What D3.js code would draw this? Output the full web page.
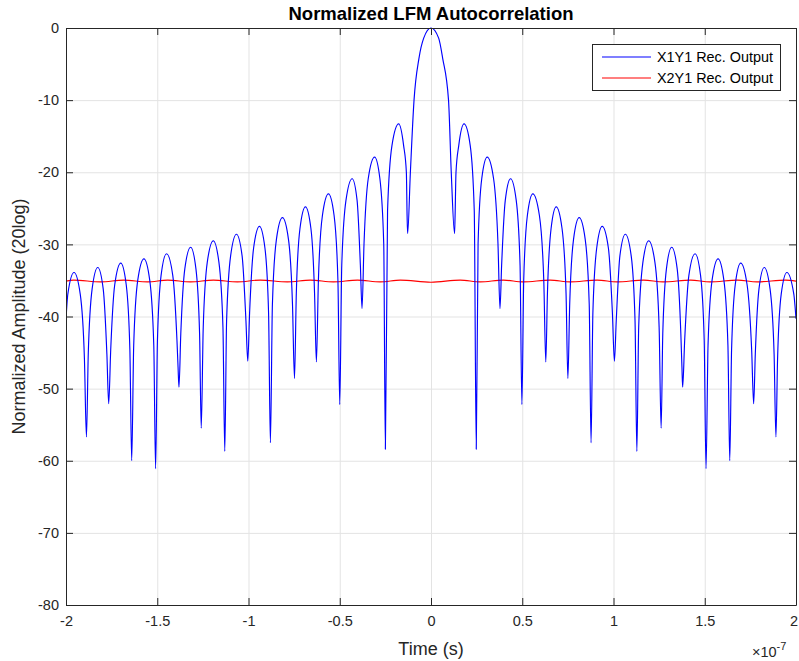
<!DOCTYPE html>
<html>
<head>
<meta charset="utf-8">
<script src="https://cdn.jsdelivr.net/npm/d3@7"></script>
<style>
  html, body { margin: 0; padding: 0; background: #fff; }
  svg { display: block; font-family: "Liberation Sans", Arial, Helvetica, sans-serif; }
</style>
</head>
<body>
<svg id="chart" width="799" height="661"></svg>
<script>
// Time axis in units of 1e-7 s, amplitude in dB (20log)
const xTicks = [-2, -1.5, -1, -0.5, 0, 0.5, 1, 1.5, 2];
const yTicks = [0, -10, -20, -30, -40, -50, -60, -70, -80];
const seriesNames = ["X1Y1 Rec. Output", "X2Y1 Rec. Output"];

// X1Y1 receiver output: sidelobe nulls, shoulders and peaks
const x1y1 = [
  [-2.000, -40.4], [-1.990, -36.9], [-1.956, -33.9], [-1.922, -36.9], [-1.899, -45.9],
  [-1.888, -56.7],
  [-1.878, -45.2], [-1.857, -36.2], [-1.826, -33.2], [-1.796, -36.2], [-1.776, -45.2],
  [-1.766, -52.1],
  [-1.755, -44.6], [-1.733, -35.6], [-1.700, -32.6], [-1.670, -35.6], [-1.650, -44.6],
  [-1.640, -60.0],
  [-1.629, -44.0], [-1.607, -35.0], [-1.573, -32.0], [-1.541, -35.0], [-1.519, -44.0],
  [-1.509, -61.1],
  [-1.499, -43.3], [-1.479, -34.3], [-1.449, -31.3], [-1.415, -34.3], [-1.392, -43.3], [-1.386, -47.0],
  [-1.381, -49.8],
  [-1.371, -42.4], [-1.349, -33.4], [-1.317, -30.4], [-1.288, -33.4], [-1.268, -42.4],
  [-1.259, -55.5],
  [-1.248, -41.5], [-1.226, -32.5], [-1.193, -29.5], [-1.162, -32.5], [-1.140, -41.5],
  [-1.130, -58.7],
  [-1.120, -40.6], [-1.098, -31.6], [-1.066, -28.6], [-1.035, -31.6], [-1.014, -40.6],
  [-1.004, -46.2],
  [-0.994, -39.5], [-0.972, -30.5], [-0.940, -27.5], [-0.910, -30.5], [-0.890, -39.5],
  [-0.880, -57.5],
  [-0.869, -38.3], [-0.847, -29.3], [-0.814, -26.3], [-0.781, -29.3], [-0.759, -38.3],
  [-0.748, -48.6],
  [-0.738, -36.8], [-0.718, -27.8], [-0.688, -24.8], [-0.658, -27.8], [-0.638, -36.8],
  [-0.628, -46.3],
  [-0.617, -35.0], [-0.595, -26.0], [-0.562, -23.0], [-0.531, -26.0], [-0.510, -35.0],
  [-0.500, -52.2],
  [-0.489, -32.9], [-0.466, -23.9], [-0.432, -20.9], [-0.405, -23.9], [-0.387, -32.9],
  [-0.378, -38.9],
  [-0.367, -29.9], [-0.344, -20.9], [-0.309, -17.9], [-0.280, -20.9], [-0.259, -29.9],
  [-0.250, -58.4],
  [-0.238, -25.3], [-0.214, -16.3], [-0.177, -13.3], [-0.150, -16.3], [-0.135, -20.0], [-0.131, -26.0],
  [-0.128, -28.5],
  [-0.113, -20.0], [-0.093, -10.0], [-0.066, -4.2], [-0.040, -1.4], [0.000, 0.0],
  [0.042, -1.4], [0.064, -4.2], [0.096, -10.0], [0.111, -20.0],
  [0.129, -28.5],
  [0.132, -26.0], [0.137, -20.0], [0.152, -16.3], [0.181, -13.3], [0.215, -16.3], [0.237, -25.3],
  [0.248, -58.4],
  [0.258, -29.9], [0.278, -20.9], [0.308, -17.9], [0.343, -20.9], [0.367, -29.9],
  [0.378, -38.9],
  [0.387, -32.9], [0.407, -23.9], [0.436, -20.9], [0.467, -23.9], [0.488, -32.9],
  [0.498, -52.2],
  [0.508, -35.0], [0.528, -26.0], [0.558, -23.0], [0.594, -26.0], [0.618, -35.0],
  [0.629, -46.3],
  [0.638, -36.8], [0.658, -27.8], [0.686, -24.8], [0.718, -27.8], [0.740, -36.8],
  [0.750, -48.6],
  [0.760, -38.3], [0.781, -29.3], [0.812, -26.3], [0.845, -29.3], [0.867, -38.3],
  [0.877, -57.5],
  [0.887, -39.5], [0.908, -30.5], [0.938, -27.5], [0.972, -30.5], [0.994, -39.5],
  [1.005, -46.2],
  [1.015, -40.6], [1.035, -31.6], [1.065, -28.6], [1.097, -31.6], [1.118, -40.6],
  [1.128, -58.7],
  [1.138, -41.5], [1.161, -32.5], [1.193, -29.5], [1.227, -32.5], [1.250, -41.5],
  [1.261, -55.5],
  [1.270, -42.4], [1.290, -33.4], [1.319, -30.4], [1.349, -33.4], [1.369, -42.4], [1.375, -47.0],
  [1.379, -49.8],
  [1.390, -43.3], [1.413, -34.3], [1.447, -31.3], [1.477, -34.3], [1.497, -43.3],
  [1.507, -61.1],
  [1.518, -44.0], [1.540, -35.0], [1.573, -32.0], [1.605, -35.0], [1.627, -44.0],
  [1.637, -60.0],
  [1.647, -44.6], [1.667, -35.6], [1.697, -32.6], [1.732, -35.6], [1.757, -44.6],
  [1.768, -52.1],
  [1.777, -45.2], [1.797, -36.2], [1.826, -33.2], [1.858, -36.2], [1.880, -45.2],
  [1.890, -56.7],
  [1.899, -45.9], [1.919, -36.9], [1.950, -33.9], [1.988, -36.9], [2.000, -40.3]
];

// X2Y1 receiver output: nearly flat floor with a slight ripple
const x2y1 = [
  [-2.000, -35.10], [-1.958, -34.95], [-1.810, -35.20], [-1.684, -34.95], [-1.553, -35.20],
  [-1.443, -34.95], [-1.318, -35.20], [-1.192, -34.95], [-1.061, -35.20], [-0.935, -34.95],
  [-0.787, -35.20], [-0.661, -34.95], [-0.535, -35.20], [-0.403, -34.95], [-0.278, -35.20],
  [-0.168, -34.95], [0.000, -35.25], [0.160, -34.95], [0.270, -35.20], [0.396, -34.95],
  [0.505, -35.20], [0.653, -34.95], [0.762, -35.20], [0.910, -34.95], [1.020, -35.20],
  [1.165, -34.95], [1.272, -35.20], [1.423, -34.95], [1.529, -35.20], [1.680, -34.95],
  [1.786, -35.20], [1.943, -34.95], [2.000, -35.10]
];

const svg = d3.select("#chart");
const axisColor = "#262626";
const gridColor = "#e3e3e3";
const plotLeft = 66, plotRight = 796, plotTop = 28, plotBottom = 605;
const tickLen = 7;

const x = d3.scaleLinear().domain([-2, 2]).range([plotLeft, plotRight]);
const y = d3.scaleLinear().domain([-80, 0]).range([plotBottom, plotTop]);

// grid
const grid = svg.append("g");
grid.append("g")
  .attr("transform", `translate(0,${plotBottom})`)
  .call(d3.axisBottom(x).tickValues(xTicks).tickSize(-(plotBottom - plotTop)).tickFormat(""))
  .call(g => g.select(".domain").remove())
  .call(g => g.selectAll("line").attr("stroke", gridColor).attr("stroke-width", 1));
grid.append("g")
  .attr("transform", `translate(${plotLeft},0)`)
  .call(d3.axisLeft(y).tickValues(yTicks).tickSize(-(plotRight - plotLeft)).tickFormat(""))
  .call(g => g.select(".domain").remove())
  .call(g => g.selectAll("line").attr("stroke", gridColor).attr("stroke-width", 1));

// data lines
svg.append("clipPath").attr("id", "plotclip")
  .append("rect").attr("x", plotLeft).attr("y", plotTop - 1)
  .attr("width", plotRight - plotLeft).attr("height", plotBottom - plotTop + 2);

const line = d3.line()
  .x(d => x(d[0]))
  .y(d => y(d[1]))
  .curve(d3.curveMonotoneX);

const plot = svg.append("g").attr("clip-path", "url(#plotclip)");
plot.append("path").datum(x2y1)
  .attr("d", line).attr("fill", "none").attr("stroke", "#ff0000").attr("stroke-width", 1.2);
plot.append("path").datum(x1y1)
  .attr("d", line).attr("fill", "none").attr("stroke", "#0000ff").attr("stroke-width", 1.15)
  .attr("stroke-linejoin", "round");

// axes with inward ticks on all four sides
const tickFmt = d => String(d);
function styleAxis(g) {
  g.select(".domain").attr("stroke", axisColor).attr("stroke-width", 1);
  g.selectAll(".tick line").attr("stroke", axisColor).attr("stroke-width", 1);
  g.selectAll(".tick text").attr("fill", axisColor).style("font-size", "14.5px")
    .style("font-family", '"Liberation Sans", Arial, sans-serif');
}
svg.append("g").attr("transform", `translate(0,${plotBottom})`)
  .call(d3.axisBottom(x).tickValues(xTicks).tickSizeInner(-tickLen).tickSizeOuter(0).tickPadding(11).tickFormat(tickFmt))
  .call(styleAxis)
  // keep the last label inside the canvas edge
  .call(g => g.selectAll(".tick text").filter(d => d === 2).attr("dx", -2.5));
svg.append("g").attr("transform", `translate(0,${plotTop})`)
  .call(d3.axisTop(x).tickValues(xTicks).tickSizeInner(-tickLen).tickSizeOuter(0).tickFormat(""))
  .call(styleAxis);
svg.append("g").attr("transform", `translate(${plotLeft},0)`)
  .call(d3.axisLeft(y).tickValues(yTicks).tickSizeInner(-tickLen).tickSizeOuter(0).tickPadding(7).tickFormat(tickFmt))
  .call(styleAxis);
svg.append("g").attr("transform", `translate(${plotRight},0)`)
  .call(d3.axisRight(y).tickValues(yTicks).tickSizeInner(-tickLen).tickSizeOuter(0).tickFormat(""))
  .call(styleAxis);

// title and labels
svg.append("text").attr("x", (plotLeft + plotRight) / 2).attr("y", 20)
  .attr("text-anchor", "middle").attr("font-weight", "bold").attr("font-size", 18.5)
  .attr("fill", "#000").text("Normalized LFM Autocorrelation");
svg.append("text").attr("x", (plotLeft + plotRight) / 2).attr("y", 655)
  .attr("text-anchor", "middle").attr("font-size", 18).attr("fill", axisColor).text("Time (s)");
svg.append("text").attr("transform", `translate(25,${(plotTop + plotBottom) / 2}) rotate(-90)`)
  .attr("text-anchor", "middle").attr("font-size", 18).attr("fill", axisColor)
  .text("Normalized Amplitude (20log)");

// exponent label
const expo = svg.append("text").attr("x", 752).attr("y", 657).attr("font-size", 14.5).attr("fill", axisColor);
expo.append("tspan").text("\u00d710");
expo.append("tspan").attr("font-size", 11).attr("dy", -7).text("-7");

// legend
const lg = svg.append("g");
lg.append("rect").attr("x", 592.5).attr("y", 44.5).attr("width", 188).attr("height", 46)
  .attr("fill", "#fff").attr("stroke", axisColor).attr("stroke-width", 1);
const colors = ["#0000ff", "#ff0000"];
seriesNames.forEach((name, i) => {
  const ly = 57 + i * 21;
  lg.append("line").attr("x1", 602).attr("x2", 651).attr("y1", ly).attr("y2", ly)
    .attr("stroke", colors[i]).attr("stroke-width", 1.2);
  lg.append("text").attr("x", 657).attr("y", ly + 5).attr("font-size", 14.4)
    .attr("fill", "#000").text(name);
});
</script>
</body>
</html>
